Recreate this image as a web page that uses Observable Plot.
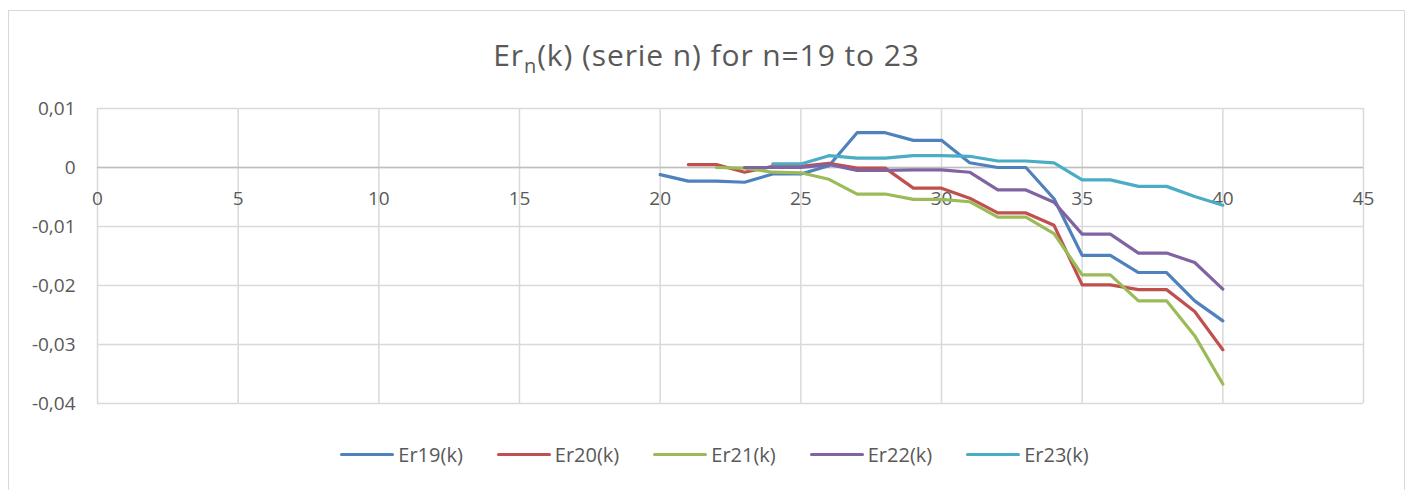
<!DOCTYPE html>
<html><head><meta charset="utf-8">
<script src="https://cdn.jsdelivr.net/npm/d3@7"></script>
<script src="https://cdn.jsdelivr.net/npm/@observablehq/plot@0.6"></script>
<style>
body{margin:0;background:#fff;font-family:"Open Sans",sans-serif;}
#wrap{position:relative;width:1410px;height:490px;overflow:hidden;background:#fff;}
#frame{position:absolute;left:8px;top:10px;width:1397px;height:520px;border:1px solid #d9d9d9;box-sizing:border-box;}
#chart{position:absolute;left:0;top:0;}
#title{position:absolute;left:8px;width:1397px;top:36px;text-align:center;font-size:30px;letter-spacing:0.9px;color:#595959;line-height:38px;}
#title sub{font-size:20px;vertical-align:-7px;line-height:0;}
#legend{position:absolute;left:16px;width:1397px;top:441px;display:flex;justify-content:center;gap:34px;font-size:20px;color:#595959;}
.item{display:flex;align-items:center;gap:4px;}
.sw{width:54px;height:3px;border-radius:2px;}
</style></head>
<body><div id="wrap"><div id="frame"></div><div id="chart"></div>
<div id="title">Er<sub>n</sub>(k) (serie n) for n=19 to 23</div>
<div id="legend"></div></div>
<script>
const seriesNames = ["Er19(k)","Er20(k)","Er21(k)","Er22(k)","Er23(k)"];
const seriesColors = ["#4f81bd","#c0504d","#9bbb59","#8064a2","#4bacc6"];
const startK = [20,21,22,23,24];
const er19 = [-0.0012,-0.0023,-0.0023,-0.0025,-0.0011,-0.0011,0.0003,0.0059,0.0059,0.0046,0.0046,0.0008,0.0000,0.0000,-0.0053,-0.0149,-0.0149,-0.0178,-0.0178,-0.0226,-0.0260];
const er20 = [0.0005,0.0005,-0.0008,0.0002,0.0002,0.0007,-0.0001,-0.0001,-0.0035,-0.0035,-0.0052,-0.0077,-0.0077,-0.0098,-0.0199,-0.0199,-0.0207,-0.0207,-0.0244,-0.0309];
const er21 = [0.0000,-0.0001,-0.0008,-0.0009,-0.0020,-0.0045,-0.0045,-0.0054,-0.0054,-0.0058,-0.0084,-0.0084,-0.0112,-0.0182,-0.0182,-0.0226,-0.0226,-0.0285,-0.0367];
const er22 = [0.0000,0.0000,0.0000,0.0005,-0.0005,-0.0005,-0.0004,-0.0004,-0.0008,-0.0038,-0.0038,-0.0059,-0.0113,-0.0113,-0.0145,-0.0145,-0.0161,-0.0206];
const er23 = [0.0006,0.0006,0.0020,0.0016,0.0016,0.0020,0.0020,0.0019,0.0011,0.0011,0.0008,-0.0021,-0.0021,-0.0032,-0.0032,-0.0049,-0.0064];
const xTicks = [0,5,10,15,20,25,30,35,40,45];
const yTicks = [0.01,0,-0.01,-0.02,-0.03,-0.04];

const allSeries = [er19,er20,er21,er22,er23];
const rows = [];
allSeries.forEach((vals,i)=>vals.forEach((v,j)=>rows.push({series:seriesNames[i],k:startK[i]+j,v})));

const fmt = d => d===0 ? "0" : d.toFixed(2).replace(".",",");

const chart = Plot.plot({
  width:1410, height:490,
  marginTop:108, marginBottom:87, marginLeft:97, marginRight:47,
  style:{fontFamily:'"Open Sans",sans-serif', fontSize:"19px", color:"#595959", background:"transparent", overflow:"visible"},
  x:{domain:[0,45], axis:null},
  y:{domain:[-0.04,0.01]},
  color:{domain:seriesNames, range:seriesColors},
  marks:[
    Plot.ruleX(xTicks,{x:d=>d, stroke:"#d9d9d9", strokeWidth:1.5}),
    Plot.ruleY(yTicks,{y:d=>d, stroke:"#d9d9d9", strokeWidth:1.5}),
    Plot.ruleY([0],{stroke:"#bfbfbf", strokeWidth:1.5}),
    Plot.axisY(yTicks,{tickSize:0, tickPadding:22, tickFormat:fmt, fill:"#595959", label:null}),
    Plot.text(xTicks,{x:d=>d, y:()=>0, dy:31, text:d=>String(d), fill:"#595959", fontSize:19}),
    Plot.line(rows,{x:"k", y:"v", z:"series", stroke:"series", strokeWidth:3.2, strokeLinejoin:"round", strokeLinecap:"round"})
  ]
});
document.getElementById("chart").appendChild(chart);

const leg = document.getElementById("legend");
seriesNames.forEach((n,i)=>{
  const it=document.createElement("div"); it.className="item";
  const sw=document.createElement("div"); sw.className="sw"; sw.style.background=seriesColors[i];
  const t=document.createElement("span"); t.textContent=n;
  it.appendChild(sw); it.appendChild(t); leg.appendChild(it);
});
</script></body></html>
